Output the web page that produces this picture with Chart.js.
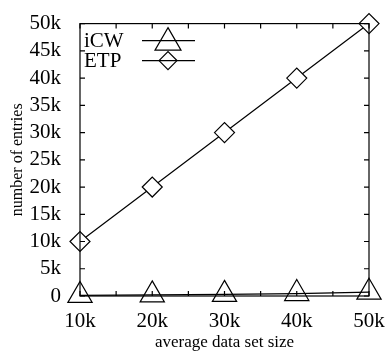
<!DOCTYPE html>
<html><head><meta charset="utf-8">
<script src="https://cdn.jsdelivr.net/npm/chart.js@4"></script>
<style>html,body{margin:0;padding:0;background:#fff}#wrap{width:390px;height:353px}</style>
</head><body><div id="wrap"><canvas id="c" width="390" height="353"></canvas></div>
<script>
const categories = [10000, 20000, 30000, 40000, 50000];
const icwValues = [100, 200, 300, 450, 700];
const etpValues = [10000, 20000, 30000, 40000, 50000];
const yTickLabels = ['0','5k','10k','15k','20k','25k','30k','35k','40k','45k','50k'];
const xTickLabels = ['10k','20k','30k','40k','50k'];
const seriesNames = ['iCW','ETP'];

const FONT = '"Liberation Serif", "Times New Roman", serif';

const framePlugin = {
  id: 'frame',
  afterDatasetsDraw(chart) {
    const ctx = chart.ctx, a = chart.chartArea;
    const xs = chart.scales.x, ys = chart.scales.y;
    ctx.save();
    ctx.strokeStyle = '#000'; ctx.lineWidth = 1.2;
    ctx.strokeRect(a.left, a.top, a.right - a.left, a.bottom - a.top);
    ctx.beginPath();
    for (let v = 10000; v <= 50000; v += 5000) {
      const px = xs.getPixelForValue(v);
      ctx.moveTo(px, a.bottom); ctx.lineTo(px, a.bottom - 5);
      ctx.moveTo(px, a.top); ctx.lineTo(px, a.top + 5);
    }
    for (let v = 0; v <= 50000; v += 5000) {
      const py = ys.getPixelForValue(v);
      ctx.moveTo(a.left, py); ctx.lineTo(a.left + 5, py);
      ctx.moveTo(a.right, py); ctx.lineTo(a.right - 5, py);
    }
    ctx.stroke();
    // legend
    ctx.font = '21px ' + FONT;
    ctx.textBaseline = 'middle';
    ctx.textAlign = 'left';
    const rows = [{y: a.top + 17, style: 'triangle', r: 15}, {y: a.top + 37, style: 'rectRot', r: 9}];
    rows.forEach((r, i) => {
      ctx.fillStyle = '#000';
      ctx.fillText(seriesNames[i], a.left + 4, r.y + 1);
      ctx.beginPath();
      ctx.lineWidth = 1.2;
      ctx.strokeStyle = '#000';
      ctx.moveTo(a.left + 62, r.y); ctx.lineTo(a.left + 115, r.y);
      ctx.stroke();
      ctx.fillStyle = 'rgba(255,255,255,0)';
      ctx.strokeStyle = '#000';
      ctx.lineWidth = 1.2;
      Chart.helpers.drawPoint(ctx, {pointStyle: r.style, radius: r.r, borderWidth: 1.2}, a.left + 88, r.style === 'triangle' ? r.y + 2 : r.y);
    });
    ctx.restore();
  }
};

new Chart(document.getElementById('c'), {
  type: 'line',
  data: {
    datasets: [
      { label: seriesNames[0], data: categories.map((x, i) => ({x, y: icwValues[i]})),
        borderColor: '#000', borderWidth: 1.2, backgroundColor: '#fff',
        pointStyle: 'triangle', pointRadius: 14, pointBorderWidth: 1.2,
        pointBackgroundColor: 'rgba(255,255,255,0)', pointBorderColor: '#000', clip: false },
      { label: seriesNames[1], data: categories.map((x, i) => ({x, y: etpValues[i]})),
        borderColor: '#000', borderWidth: 1.2, backgroundColor: '#fff',
        pointStyle: 'rectRot', pointRadius: 10, pointBorderWidth: 1.2,
        pointBackgroundColor: '#fff', pointBorderColor: '#000', clip: false }
    ]
  },
  options: {
    responsive: false, animation: false,
    layout: { padding: { top: 16, right: 21, left: 0, bottom: 0 } },
    plugins: { legend: { display: false }, tooltip: { enabled: false } },
    scales: {
      x: {
        type: 'linear', min: 10000, max: 50000,
        afterBuildTicks: s => { s.ticks = categories.map(v => ({value: v})); },
        afterFit: s => { s.height = 57; },
        grid: { display: false }, border: { display: false },
        ticks: { color: '#000', font: { family: FONT, size: 21 }, padding: 5, maxRotation: 0,
          autoSkip: false, callback: (v, i) => xTickLabels[i] },
        title: { display: true, text: 'average data set size', color: '#000',
          font: { family: FONT, size: 17 }, padding: { top: 0, bottom: 0 } }
      },
      y: {
        type: 'linear', min: 0, max: 50000,
        afterBuildTicks: s => { s.ticks = yTickLabels.map((t, i) => ({value: i * 5000})); },
        afterFit: s => { s.width = 80; },
        grid: { display: false }, border: { display: false },
        ticks: { color: '#000', font: { family: FONT, size: 21 }, padding: 11,
          autoSkip: false, callback: (v, i) => yTickLabels[i] },
        title: { display: true, text: 'number of entries', color: '#000',
          font: { family: FONT, size: 16 }, padding: { top: 8, bottom: 0 } }
      }
    }
  },
  plugins: [framePlugin]
});
</script></body></html>
